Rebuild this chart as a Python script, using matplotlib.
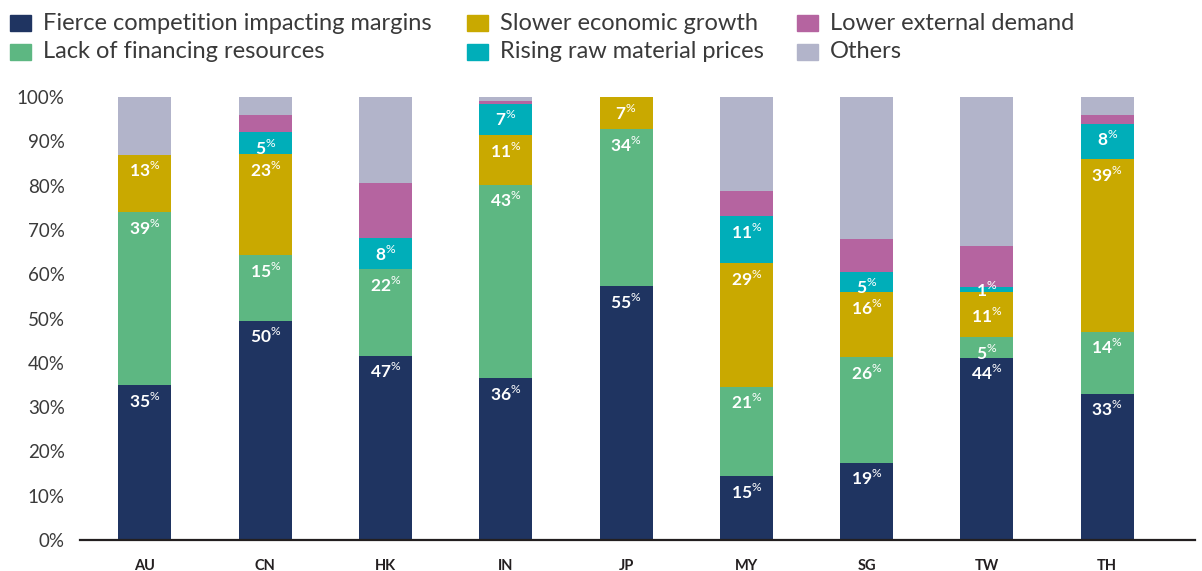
import matplotlib
matplotlib.use('Agg')
import matplotlib.pyplot as plt
from matplotlib.patches import Rectangle
import numpy as np

plt.rcParams['font.family'] = 'Lato'
plt.rcParams['mathtext.fontset'] = 'custom'
plt.rcParams['mathtext.rm'] = 'Lato'
plt.rcParams['mathtext.bf'] = 'Lato:bold'

# survey shares per market (raw, bars are scaled to 100%)
markets = ['AU', 'CN', 'HK', 'IN', 'JP', 'MY', 'SG', 'TW', 'TH']
fierce = [35, 50, 47, 36, 55, 15, 19, 44, 33]
financing = [39, 15, 22, 43, 34, 21, 26, 5, 14]
slower = [13, 23, 0, 11, 7, 29, 16, 11, 39]
raw_material = [0, 5, 8, 7, 0, 11, 5, 1, 8]
external = [0, 4, 14, 0.5, 0, 6, 8, 10, 2]
others = [13, 4, 22, 1, 0, 22, 35, 36, 4]

series = [
    ('Fierce competition impacting margins', fierce, '#1f3461', True),
    ('Lack of financing resources', financing, '#5db782', True),
    ('Slower economic growth', slower, '#c9a900', True),
    ('Rising raw material prices', raw_material, '#00aeb9', True),
    ('Lower external demand', external, '#b564a0', False),
    ('Others', others, '#b2b4ca', False),
]

vals = np.array([s[1] for s in series], dtype=float)
shares = vals / vals.sum(axis=0) * 100
tops = np.cumsum(shares, axis=0)
n_lab = sum(1 for s in series if s[3])

fig = plt.figure(figsize=(12.02, 5.71), dpi=100)
ax = fig.add_axes([80 / 1202, 1 - 540 / 571, 1115 / 1202, 443 / 571])

x = np.arange(len(markets))
for k, ((name, raw, color, labelled), h) in enumerate(zip(series, shares)):
    ax.bar(x, h, 0.44, bottom=tops[k] - h, color=color, linewidth=0)
    if not labelled:
        continue
    for j in range(len(markets)):
        v = vals[k, j]
        if v <= 0:
            continue
        if h[j] < 3:
            # thin slice: centre the label on it
            y, off, va = tops[k, j] - h[j] / 2, 0, 'center'
        else:
            y, off, va = tops[k, j], -4, 'top'
            if k + 1 < n_lab and 0 < shares[k + 1, j] < 3:
                off = -10
        ax.annotate(r'$\mathbf{%d}^{\%%}$' % v, xy=(j, y),
                    xytext=(0, off), textcoords='offset points',
                    ha='center', va=va, color='white', fontsize=12.5)

ax.set_xlim(-0.54, 8.73)
ax.set_ylim(0, 100)
ax.set_yticks(np.arange(0, 101, 10))
ax.set_yticklabels([f'{t}%' for t in range(0, 101, 10)])
ax.set_xticks(x)
ax.set_xticklabels(markets, fontweight='bold')
ax.tick_params(axis='y', length=0, pad=11, labelsize=13.5, labelcolor='#3a3a3a')
ax.tick_params(axis='x', length=0, pad=14, labelsize=10.5, labelcolor='#231f20')
for s in ['top', 'right', 'left']:
    ax.spines[s].set_visible(False)
ax.spines['bottom'].set_color('#231f20')
ax.spines['bottom'].set_linewidth(1.6)

# legend laid out in three fixed columns
cols = [10, 467, 797]
rows = [23, 52]
for i, (name, raw, color, labelled) in enumerate(series):
    cx = cols[i // 2]
    cy = rows[i % 2]
    fig.patches.append(Rectangle((cx / 1202, 1 - (cy + 8) / 571), 21 / 1202, 16 / 571,
                                 transform=fig.transFigure, color=color))
    fig.text((cx + 33) / 1202, 1 - cy / 571, name, fontsize=17, color='#3a3a3a',
             va='center', ha='left')

fig.savefig('out.png', dpi=100)
